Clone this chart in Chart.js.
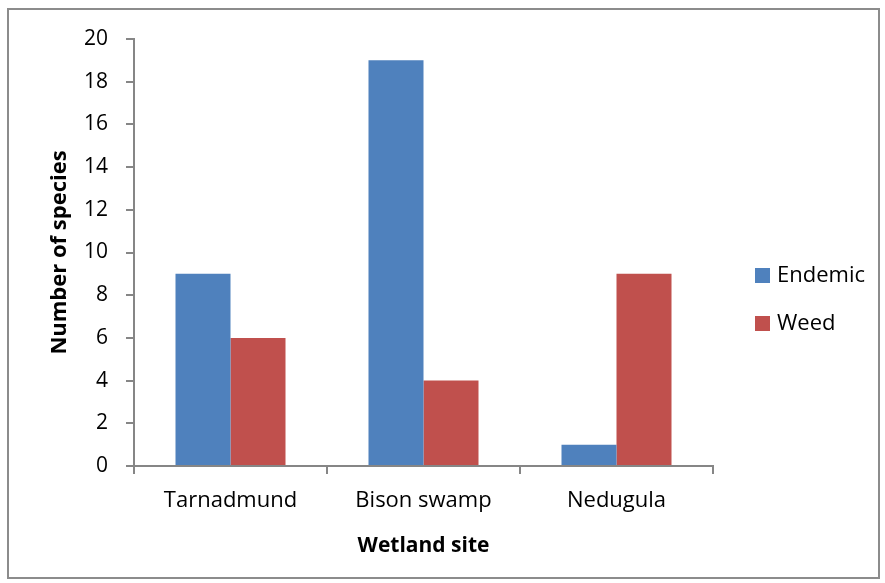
<!DOCTYPE html>
<html>
<head>
<meta charset="utf-8">
<script src="https://cdn.jsdelivr.net/npm/chart.js@4.4.1/dist/chart.umd.min.js"></script>
<style>
  html, body { margin: 0; padding: 0; background: #fff; }
  #wrap { width: 885px; height: 583px; position: relative; }
</style>
</head>
<body>
<div id="wrap"><canvas id="c" width="885" height="583"></canvas></div>
<script>
// Species counts per wetland site
const sites = ['Tarnadmund', 'Bison swamp', 'Nedugula'];
const endemic = [9, 19, 1];
const weed = [6, 4, 9];
const seriesNames = ['Endemic', 'Weed'];
const seriesColors = ['#4F81BD', '#C0504D'];
const yTicks = [0, 2, 4, 6, 8, 10, 12, 14, 16, 18, 20];

const FONT = '"Open Sans", sans-serif';
const AXIS = '#868686';

// Outer frame plus a legend drawn at the right
const framePlugin = {
  id: 'frame',
  beforeDraw(chart) {
    const ctx = chart.ctx;
    ctx.save();
    ctx.fillStyle = '#fff';
    ctx.fillRect(0, 0, chart.width, chart.height);
    ctx.strokeStyle = '#8c8c8c';
    ctx.lineWidth = 2;
    ctx.strokeRect(8, 9, 871, 569);
    ctx.restore();
  },
  afterDraw(chart) {
    const ctx = chart.ctx;
    ctx.save();
    ctx.font = '22px ' + FONT;
    ctx.textBaseline = 'middle';
    const ys = [275, 323];
    chart.data.datasets.forEach((ds, i) => {
      ctx.fillStyle = ds.backgroundColor;
      ctx.fillRect(755, ys[i] - 7, 15, 15);
      ctx.fillStyle = '#000';
      ctx.fillText(ds.label, 777, ys[i] + 1);
    });
    ctx.restore();
  }
};

new Chart(document.getElementById('c'), {
  type: 'bar',
  data: {
    labels: sites,
    datasets: [
      { label: seriesNames[0], data: endemic, backgroundColor: seriesColors[0] },
      { label: seriesNames[1], data: weed, backgroundColor: seriesColors[1] }
    ]
  },
  options: {
    responsive: false,
    animation: false,
    devicePixelRatio: 1,
    layout: { padding: { left: 0, top: 39, right: 172, bottom: 0 } },
    datasets: { bar: { categoryPercentage: 0.57, barPercentage: 1.0 } },
    plugins: { legend: { display: false }, tooltip: { enabled: false } },
    scales: {
      x: {
        grid: { display: true, drawOnChartArea: false, color: AXIS, lineWidth: 2, tickLength: 8, offset: true },
        border: { display: true, color: AXIS, width: 2 },
        ticks: { color: '#000', font: { family: FONT, size: 22 }, padding: 14, maxRotation: 0 },
        title: { display: true, text: 'Wetland site', color: '#000', font: { family: FONT, size: 21, weight: 'bold' }, padding: 24 },
        afterFit(scale) { scale.height = 117; }
      },
      y: {
        min: 0, max: 20,
        afterBuildTicks(scale) { scale.ticks = yTicks.map(v => ({ value: v })); },
        grid: { display: true, drawOnChartArea: false, color: AXIS, lineWidth: 2, tickLength: 8 },
        border: { display: true, color: AXIS, width: 2 },
        ticks: { color: '#000', font: { family: FONT, size: 21 }, padding: 18 },
        title: { display: true, text: 'Number of species', color: '#000', font: { family: FONT, size: 22, weight: 'bold' }, padding: 47 },
        afterFit(scale) { scale.width = 134; }
      }
    }
  },
  plugins: [framePlugin]
});
</script>
</body>
</html>
